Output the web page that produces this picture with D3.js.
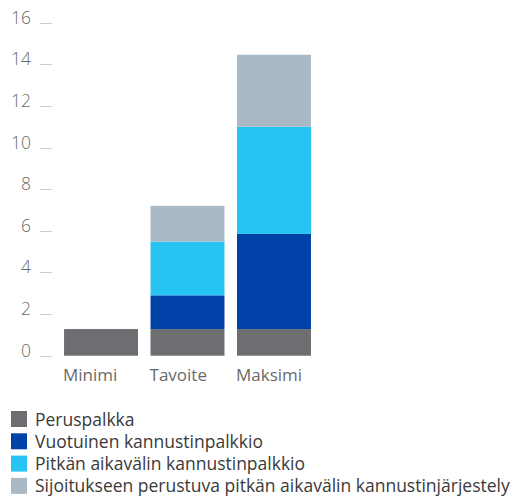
<!DOCTYPE html>
<html>
<head>
<meta charset="utf-8">
<script src="https://cdn.jsdelivr.net/npm/d3@7"></script>
<style>
  body{margin:0;background:#fff;}
  svg{display:block;font-family:"Open Sans",sans-serif;}
</style>
</head>
<body>
<div id="chart"></div>
<script>
const categories=["Minimi","Tavoite","Maksimi"];
const seriesNames=[
  "Peruspalkka",
  "Vuotuinen kannustinpalkkio",
  "Pitkän aikavälin kannustinpalkkio",
  "Sijoitukseen perustuva pitkän aikavälin kannustinjärjestely"
];
const peruspalkka=[1.28,1.28,1.28];
const vuotuinen=[0,1.62,4.57];
const pitkan=[0,2.58,5.15];
const sijoitus=[0,1.72,3.46];
const yTicks=[0,2,4,6,8,10,12,14,16];
const colors=["#6d6e71","#0041a8","#27c4f3","#a9bac6"];

const W=516,H=497;
const svg=d3.select("#chart").append("svg").attr("width",W).attr("height",H);

const rows=categories.map((c,i)=>({
  cat:c,
  [seriesNames[0]]:peruspalkka[i],
  [seriesNames[1]]:vuotuinen[i],
  [seriesNames[2]]:pitkan[i],
  [seriesNames[3]]:sijoitus[i]
}));
const stack=d3.stack().keys(seriesNames)(rows);

const x=d3.scaleBand().domain(categories).range([51.5,323.5]).padding(0.145);
const y=d3.scaleLinear().domain([0,16]).range([355.7,22.7]);
const color=d3.scaleOrdinal().domain(seriesNames).range(colors);

// y axis: labels + short dashes
const yAxis=svg.append("g");
yAxis.selectAll("line").data(yTicks).join("line")
  .attr("x1",40).attr("x2",52)
  .attr("y1",d=>Math.round(y(d))+0.5).attr("y2",d=>Math.round(y(d))+0.5)
  .attr("stroke","#c9ced1").attr("stroke-width",1);
yAxis.selectAll("text").data(yTicks).join("text")
  .attr("x",31).attr("y",d=>y(d)+1)
  .attr("text-anchor","end")
  .attr("font-size",17.5).attr("font-weight",300)
  .attr("fill","#6a6a6a")
  .text(d=>d);

// stacked bars
svg.append("g").selectAll("g").data(stack).join("g")
  .attr("fill",d=>color(d.key))
  .selectAll("rect").data(d=>d.filter(p=>p[1]>p[0])).join("rect")
  .attr("x",d=>x(d.data.cat))
  .attr("width",x.bandwidth())
  .attr("y",d=>y(d[1]))
  .attr("height",d=>y(d[0])-y(d[1]));

// category labels, left-aligned with the bars
svg.append("g").selectAll("text").data(categories).join("text")
  .attr("x",d=>x(d)-1)
  .attr("y",381)
  .attr("font-size",17).attr("font-weight",400)
  .attr("fill","#6a6a6a")
  .text(d=>d);

// legend
const legend=svg.append("g").attr("transform","translate(11,411)");
const item=legend.selectAll("g").data(seriesNames).join("g")
  .attr("transform",(d,i)=>`translate(0,${i*22.3})`);
item.append("rect").attr("width",16).attr("height",16).attr("fill",d=>color(d));
item.append("text")
  .attr("x",24).attr("y",14.5)
  .attr("font-size",17.5).attr("font-weight",400)
  .attr("fill","#3a3a3a")
  .text(d=>d);
</script>
</body>
</html>
